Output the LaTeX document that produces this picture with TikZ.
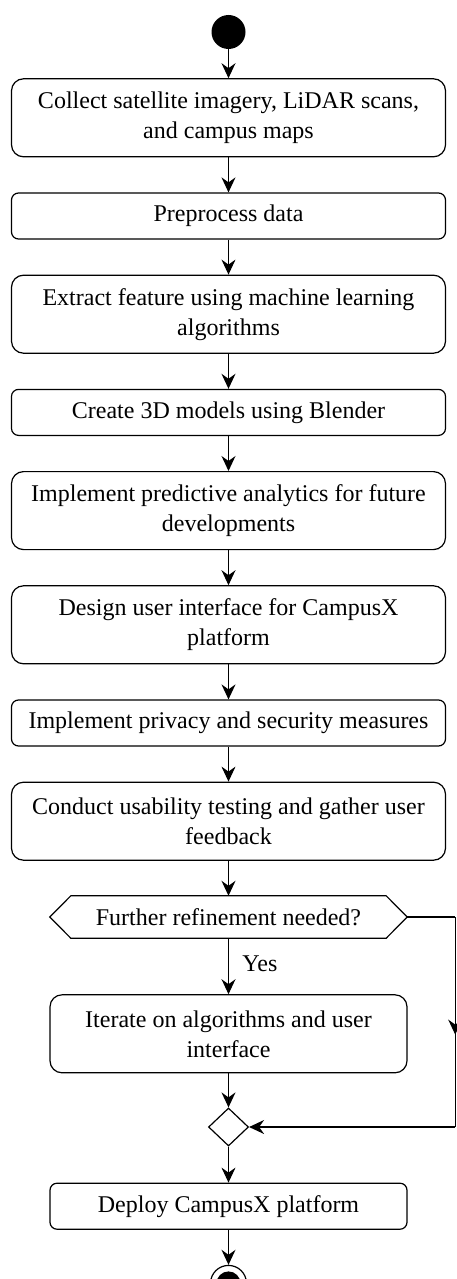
\documentclass[tikz,border=0pt]{standalone}
\usepackage{fontspec}
\setmainfont{Liberation Serif}
\usetikzlibrary{
    positioning,
    arrows.meta,
    shapes.geometric,
    decorations.markings
    }

\begin{document}
\begin{tikzpicture}[x=1pt, y=1pt, node distance=35pt]
\tikzset{initial/.style =
        {
            shape=circle,
            fill=black,
            minimum size=34pt,
            inner sep=0pt
        }
}

\tikzset{final/.style =
        {
            shape=circle,
            draw,
            line width=1.2pt,
            minimum size=36pt,
            inner sep=0pt,
            path picture={\fill (path picture bounding box.center) circle [radius=12pt];}
        }
}

\tikzset{activity/.style =
        {
            rectangle,
            rounded corners=7pt,
            draw,
            line width=1.2pt,
            minimum width=357pt,
            minimum height=46pt,
            inner sep=0pt,
            align=center,
            font=\fontsize{24}{30}\selectfont
        }
}

\tikzset{activity wide/.style = {activity, minimum width=434pt}}
\tikzset{activity tall/.style = {activity, rounded corners=12pt, minimum height=78pt}}
\tikzset{activity wide tall/.style = {activity tall, minimum width=434pt}}

\tikzset{decision/.style =
        {
            rectangle,
            minimum width=357pt,
            minimum height=42pt,
            inner sep=0pt,
            font=\fontsize{24}{30}\selectfont
        }
}

\tikzset{merge/.style =
        {
            shape=diamond,
            draw,
            line width=1.2pt,
            minimum width=40pt,
            minimum height=38pt,
            inner sep=0pt
        }
}

\tikzset{line/.style = {line width=1.2pt}}

\tikzset{flow/.style = {
            line,
            -{Stealth[length=15pt, width=14pt, inset=5pt]}
        }
}

\tikzset{midarrow/.style = {
            decoration={markings, mark=at position 0.56 with {\arrow{Stealth[length=15pt, width=14pt, inset=5pt]}}},
            postaction=decorate
        }
}

		\useasboundingbox (0,0) rectangle (457,-1279);

		\node[initial] (start) at (228.5,-32) {};
		\node[activity wide tall, below=29pt of start] (collect) {Collect satellite imagery, LiDAR scans,\\and campus maps};
		\node[activity wide, below=of collect] (preprocess) {Preprocess data};
		\node[activity wide tall, below=of preprocess] (extract) {Extract feature using machine learning\\algorithms};
		\node[activity wide, below=of extract] (model) {Create 3D models using Blender};
		\node[activity wide tall, below=of model] (predict) {Implement predictive analytics for future\\developments};
		\node[activity wide tall, below=of predict] (design) {Design user interface for CampusX\\platform};
		\node[activity wide, below=of design] (privacy) {Implement privacy and security measures};
		\node[activity wide tall, below=of privacy] (testing) {Conduct usability testing and gather user\\feedback};
		\node[decision, below=of testing] (refine) {Further refinement needed?};
		\node[activity tall, below=56pt of refine] (iterate) {Iterate on algorithms and user\\interface};
		\node[merge, below=34pt of iterate] (join) {};
		\node[activity, below=36pt of join] (deploy) {Deploy CampusX platform};
		\node[final, below=of deploy] (stop) {};

		% hexagon round the decision text
		\draw[line] (refine.west) -- ([xshift=21pt]refine.north west) -- ([xshift=-21pt]refine.north east)
			-- (refine.east) -- ([xshift=-21pt]refine.south east) -- ([xshift=21pt]refine.south west) -- cycle;

		\foreach \from / \to in
			{start/collect,
				collect/preprocess,
				preprocess/extract,
				extract/model,
				model/predict,
				predict/design,
				design/privacy,
				privacy/testing,
				testing/refine,
				iterate/join,
				join/deploy,
				deploy/stop}
			{
				\draw [flow] (\from) -- (\to);
			}

		\draw [flow] (refine) -- node[right=10pt, pos=0.45, font=\fontsize{24}{30}\selectfont] (yes) {Yes} (iterate);

		\coordinate[right=48pt of refine.east] (loop top);
		\coordinate (loop bottom) at (loop top |- join.east);
		\draw [line] (refine.east) -- (loop top);
		\draw [line, midarrow] (loop top) -- (loop bottom);
		\draw [flow] (loop bottom) -- (join.east);

	\end{tikzpicture}
\end{document}
